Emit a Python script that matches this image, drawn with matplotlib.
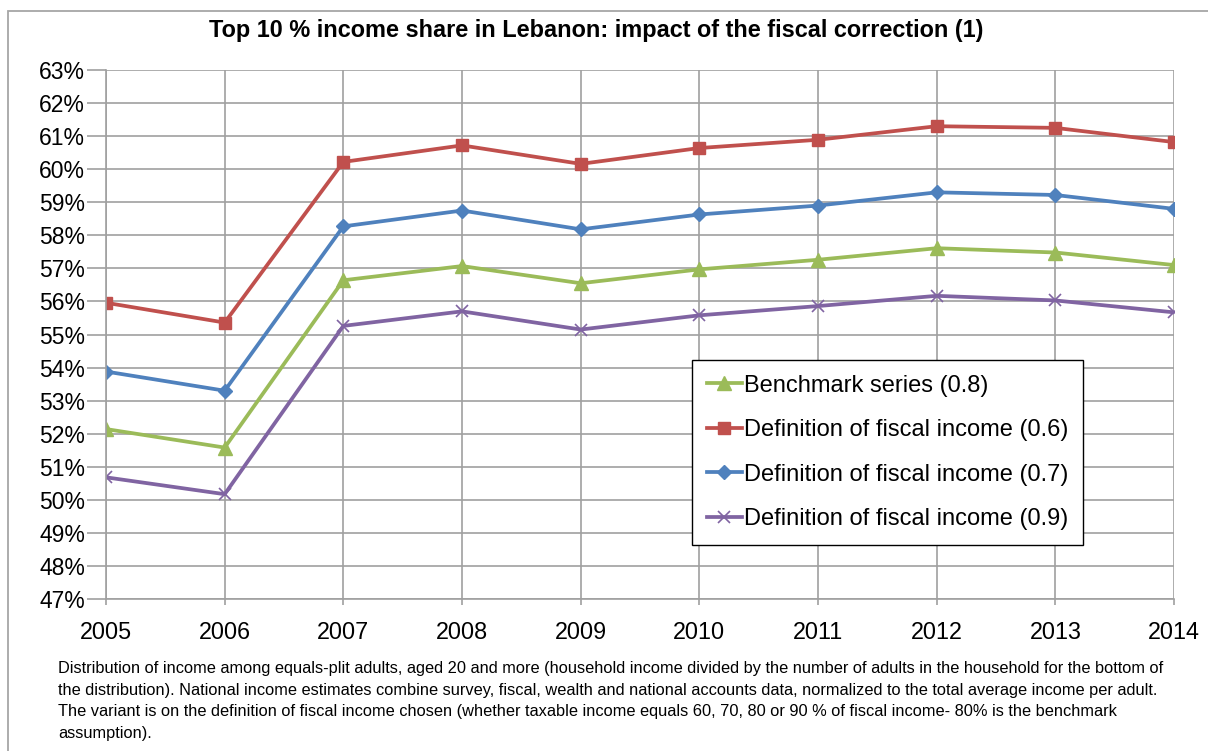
import matplotlib
matplotlib.use("Agg")
import matplotlib.pyplot as plt
from matplotlib.patches import Rectangle
from matplotlib.ticker import FuncFormatter

plt.rcParams['font.family'] = ['Liberation Sans', 'DejaVu Sans']

years = [2005, 2006, 2007, 2008, 2009, 2010, 2011, 2012, 2013, 2014]
benchmark_08 = [52.14, 51.58, 56.64, 57.07, 56.55, 56.97, 57.26, 57.61, 57.48, 57.10]
fiscal_06 = [55.96, 55.36, 60.22, 60.72, 60.16, 60.64, 60.89, 61.30, 61.25, 60.82]
fiscal_07 = [53.88, 53.30, 58.27, 58.75, 58.18, 58.63, 58.90, 59.30, 59.22, 58.80]
fiscal_09 = [50.68, 50.17, 55.26, 55.70, 55.15, 55.58, 55.86, 56.17, 56.03, 55.67]

title = "Top 10 % income share in Lebanon: impact of the fiscal correction (1)"
note = ("Distribution of income among equals-plit adults, aged 20 and more (household income divided by the number of adults in the household for the bottom of\n"
        "the distribution). National income estimates combine survey, fiscal, wealth and national accounts data, normalized to the total average income per adult.\n"
        "The variant is on the definition of fiscal income chosen (whether taxable income equals 60, 70, 80 or 90 % of fiscal income- 80% is the benchmark\n"
        "assumption).")

W, H = 1208, 751
fig = plt.figure(figsize=(W / 100, H / 100), dpi=100)

# outer chart frame (right and bottom edges fall outside the picture)
fig.patches.append(Rectangle((8 / W, -0.1), 1.2, 1 - 11 / H + 0.1, transform=fig.transFigure,
                             fill=False, edgecolor='#a6a6a6', lw=1.3))

ax = fig.add_axes([106 / W, 1 - 599 / H, (1174 - 106) / W, (599 - 70) / H])

grid = '#a0a0a0'
ax.plot(years, benchmark_08, color='#9bbb59', lw=2.7, marker='^', ms=10, label='Benchmark series (0.8)')
ax.plot(years, fiscal_06, color='#c0504d', lw=2.7, marker='s', ms=9, label='Definition of fiscal income (0.6)')
ax.plot(years, fiscal_07, color='#4f81bd', lw=2.7, marker='D', ms=7, label='Definition of fiscal income (0.7)')
ax.plot(years, fiscal_09, color='#8064a2', lw=2.7, marker='x', ms=9, mew=1.2, label='Definition of fiscal income (0.9)')

ax.set_xlim(2005, 2014)
ax.set_ylim(47, 63)
ax.set_xticks(years)
ax.set_yticks(range(47, 64))
ax.yaxis.set_major_formatter(FuncFormatter(lambda v, p: "{:.0f}%".format(v)))
ax.grid(True, color=grid, lw=1.2)
ax.set_axisbelow(True)
for s in ['top', 'right']:
    ax.spines[s].set_visible(False)
for s in ['left', 'bottom']:
    ax.spines[s].set_color(grid)
    ax.spines[s].set_linewidth(1.2)
ax.tick_params(axis='y', length=14, width=1.2, color=grid, pad=1, labelsize=16.5)
ax.tick_params(axis='x', length=4, width=1.2, color=grid, pad=12, labelsize=16.8)

fig.text(596 / W, 1 - 31 / H, title, ha='center', va='center', fontsize=16.9, fontweight='bold')

leg = ax.legend(loc='upper left', bbox_to_anchor=(692 / W, 1 - 360 / H), bbox_transform=fig.transFigure,
                fontsize=17, frameon=True, fancybox=False, edgecolor='black', framealpha=1,
                handlelength=1.5, handletextpad=0.08, labelspacing=0.95, borderpad=0.62, borderaxespad=0)
leg.get_frame().set_linewidth(1.0)

fig.text(58 / W, 1 - 661 / H, note, ha='left', va='top', fontsize=11.83, linespacing=1.55)

fig.savefig("out.png", dpi=100)
